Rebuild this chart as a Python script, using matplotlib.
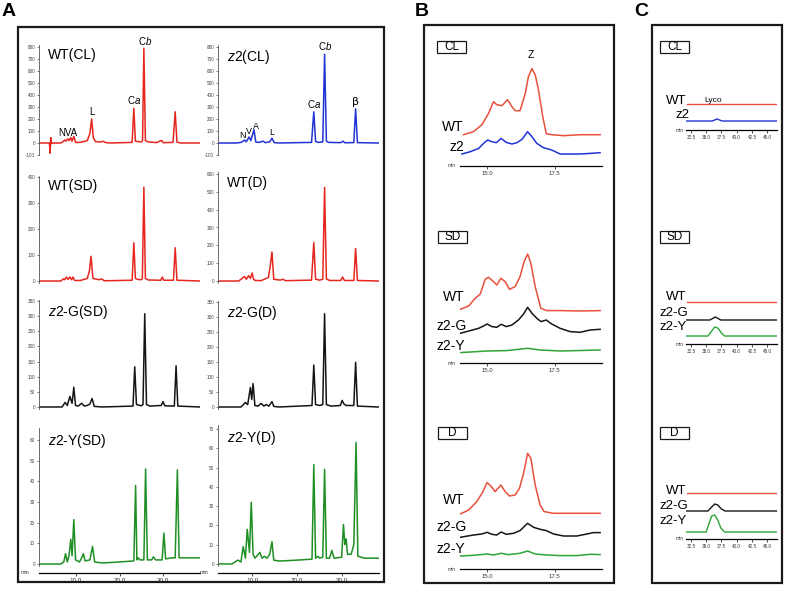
import numpy as np
import matplotlib
matplotlib.use("Agg")
import matplotlib.pyplot as plt
from matplotlib.patches import Rectangle

plt.rcParams['font.family'] = ['Liberation Sans', 'DejaVu Sans']
plt.rcParams['mathtext.fontset'] = 'custom'
plt.rcParams['mathtext.it'] = 'Liberation Sans:italic'
plt.rcParams['mathtext.rm'] = 'Liberation Sans'

# ---------------- data: panel A (time in min, absorbance) ----------------
wt_cl_t = [1.5, 3.9, 4.05, 4.2, 4.35, 4.6, 6.5, 7.0, 7.4, 7.7, 8.1, 8.4, 8.8, 9.1, 9.5, 9.9, 11.0, 12.6, 13.2, 13.6, 14.0,
           14.5, 15.5, 16.2, 16.9, 18.0, 22.9, 23.3, 23.65, 24.3, 25.0, 25.3, 25.6, 25.95, 26.5, 28.5, 29.7, 30.0, 30.3,
           32.3, 32.8, 33.2, 34.0, 38.5]
wt_cl_y = [0, 0, -85, 45, -5, 0, 0, 10, 25, 15, 35, 20, 45, 15, 55, 5, 5, 20, 80, 200, 40,
           12, 8, 14, 3, 0, 5, 290, 15, 12, 8, 20, 790, 20, 10, 3, 22, 3, 3,
           5, 260, 8, 0, 0]
z2_cl_t = [2.2, 6.5, 7.5, 8.0, 8.3, 8.7, 9.3, 9.7, 10.4, 10.8, 11.5, 12.4, 13.0, 13.9, 14.4, 14.9, 16.0, 23.2, 23.7, 24.1,
           24.7, 25.7, 26.1, 26.5, 27.0, 29.7, 30.2, 30.6, 32.6, 33.0, 33.4, 38.1]
z2_cl_y = [0, 0, 5, 15, 25, 10, 50, 20, 110, 8, 5, 15, 3, 10, 40, 3, 0, 5, 260, 12,
           5, 10, 740, 15, 5, 3, 15, 2, 3, 285, 3, 0]
wt_sd_t = [1.5, 6.5, 7.1, 7.4, 7.8, 8.2, 8.6, 9.0, 9.3, 9.7, 11.0, 12.6, 13.1, 13.45, 13.9, 15.3, 15.9, 16.5, 22.9, 23.3,
           23.65, 24.2, 25.0, 25.25, 25.6, 25.95, 26.6, 29.5, 29.8, 30.2, 32.4, 32.8, 33.2, 38.5]
wt_sd_y = [0, 0, 8, 5, 15, 6, 16, 5, 15, 2, 2, 10, 40, 95, 10, 5, 8, 1, 3, 147,
           10, 6, 5, 10, 361, 10, 4, 3, 15, 3, 3, 128, 3, 0]
wt_d_t = [2.4, 7.0, 8.3, 8.7, 9.2, 9.6, 10.0, 10.3, 10.7, 12.0, 13.6, 14.0, 14.4, 14.8, 16.3, 16.8, 17.4, 23.2, 23.7, 24.1,
          25.0, 25.7, 26.1, 26.5, 27.2, 29.7, 30.1, 30.5, 32.6, 33.0, 33.4, 38.1]
wt_d_y = [0, 0, 25, 10, 30, 15, 45, 10, 3, 2, 20, 80, 163, 10, 5, 10, 2, 5, 216, 10,
          5, 10, 525, 12, 3, 3, 22, 3, 3, 182, 3, 0]
zg_sd_t = [1.5, 6.8, 7.5, 8.0, 8.6, 9.1, 9.5, 9.9, 10.5, 11.3, 11.9, 12.6, 13.2, 13.7, 14.2, 16.0, 23.1, 23.5, 23.9, 25.0,
           25.4, 25.8, 26.2, 27.0, 29.6, 30.0, 30.4, 32.6, 33.0, 33.4, 38.5]
zg_sd_y = [0, 0, 15, 5, 35, 12, 65, 5, 3, 12, 3, 5, 10, 28, 2, 0, 3, 133, 8, 4,
           8, 308, 8, 3, 5, 18, 4, 3, 136, 3, 0]
zg_d_t = [2.4, 7.5, 8.5, 9.0, 9.6, 9.9, 10.2, 10.6, 11.3, 12.0, 12.6, 13.1, 13.7, 14.4, 14.8, 16.0, 23.3, 23.7, 24.1, 25.0,
          25.7, 26.1, 26.5, 27.5, 29.6, 30.0, 30.4, 30.9, 32.6, 33.0, 33.4, 38.1]
zg_d_y = [0, 0, 15, 8, 65, 25, 78, 5, 3, 12, 3, 8, 3, 18, 2, 0, 5, 140, 8, 5,
          8, 311, 8, 3, 5, 22, 10, 5, 5, 149, 3, 0]
zy_sd_t = [1.5, 6.5, 7.2, 7.6, 8.0, 8.4, 8.8, 9.1, 9.5, 9.9, 10.8, 11.3, 11.7, 12.1, 13.2, 13.8, 14.3, 16.0, 20.0, 23.3,
           23.7, 24.0, 24.3, 24.7, 25.6, 26.0, 26.4, 27.4, 27.8, 28.3, 29.8, 30.2, 30.6, 32.0, 32.8, 33.3, 33.7, 36.0, 38.5]
zy_sd_y = [0, 0, 1, 5, 1, 4, 12, 4, 21.5, 2, 1, 3, 5, 1.5, 2, 8.5, 1, 0.5, 1, 1.5,
           38, 2, 3, 2, 2, 46, 2, 2, 3.5, 2, 2, 15, 2.5, 3, 3, 45.5, 3, 3, 3]
zy_d_t = [2.4, 5.5, 6.8, 7.5, 8.0, 8.5, 8.9, 9.4, 9.8, 10.2, 10.6, 11.0, 11.7, 12.2, 12.7, 13.3, 13.9, 14.4, 14.8, 16.0,
          20.0, 23.3, 23.7, 24.1, 24.6, 25.0, 25.7, 26.1, 26.5, 27.2, 27.7, 28.2, 29.9, 30.3, 30.6, 30.9, 31.2, 32.0,
          32.6, 33.1, 33.5, 35.0, 38.1]
zy_d_y = [0, 0, 2, 1, 9, 3, 18, 6, 32, 5, 3, 4, 6, 3, 4, 3, 5, 11.5, 2, 1.5,
          2, 2.5, 51.5, 3, 4, 3, 3.5, 49, 3, 3, 7, 3, 3.5, 20.5, 10, 13, 5, 5,
          10, 63, 4, 3, 3]

# ---------------- data: panel B (time in min, signal in a.u.) ----------------
b_cl_wt_t = [14.13, 14.50, 14.81, 15.05, 15.24, 15.36, 15.55, 15.76, 15.92, 16.04, 16.22, 16.41, 16.53, 16.66, 16.78,
             16.90, 17.06, 17.19, 17.39, 17.83, 18.44, 19.18]
b_cl_wt_y = [31, 34, 41, 52, 64, 61, 60, 66, 59, 55, 55, 72, 89, 97, 91, 76, 49, 32, 31, 30, 31, 31]
b_cl_z2_t = [14.07, 14.38, 14.69, 14.87, 15.02, 15.18, 15.34, 15.52, 15.71, 15.92, 16.10, 16.29, 16.50, 16.66, 16.84,
             17.09, 17.39, 17.70, 18.07, 18.44, 18.81, 19.18]
b_cl_z2_y = [11.7, 14, 17.3, 22.3, 25.7, 24, 23, 27.3, 23.3, 21.7, 23, 26.3, 34, 29, 22.3, 18, 15.7, 11.7, 11.7, 11.7,
             12.3, 13]
b_sd_wt_t = [14.01, 14.32, 14.56, 14.75, 14.93, 15.05, 15.24, 15.36, 15.51, 15.67, 15.83, 16.04, 16.22, 16.37, 16.50,
             16.62, 16.78, 16.99, 17.21, 17.70, 18.44, 19.18]
b_sd_wt_y = [54, 57.3, 65, 69.3, 84, 86, 81.7, 78.3, 85, 81.7, 74, 76.7, 86.7, 101.7, 109.3, 100, 76.7, 55, 52.7, 52.7,
             52.3, 52.7]
b_sd_zg_t = [14.01, 14.38, 14.69, 14.87, 15.0, 15.18, 15.36, 15.52, 15.71, 15.92, 16.16, 16.35, 16.50, 16.66, 16.84,
             16.99, 17.19, 17.39, 17.70, 18.07, 18.44, 18.81, 19.18]
b_sd_zg_y = [30, 32.7, 35, 37.3, 39.3, 36.7, 36, 39, 36.7, 38.3, 43.3, 49.3, 56, 50, 45, 41.7, 43.3, 39.3, 35, 31.7, 31,
             33.3, 34]
b_sd_zy_t = [14.01, 15.0, 15.73, 16.50, 16.96, 17.70, 19.18]
b_sd_zy_y = [10.7, 12.3, 12.7, 15, 13.3, 12.3, 13.3]
b_d_wt_t = [14.01, 14.32, 14.62, 14.85, 15.0, 15.14, 15.30, 15.51, 15.67, 15.83, 16.04, 16.20, 16.35, 16.50, 16.62,
            16.78, 16.96, 17.11, 17.46, 18.44, 19.18]
b_d_wt_y = [55.3, 59.3, 67.7, 77.7, 86.7, 83.3, 77.7, 84.3, 77.7, 73.3, 74.3, 81, 96, 116, 111, 84.3, 64.3, 57.7, 56,
            56, 56]
b_d_zg_t = [14.01, 14.50, 14.81, 15.0, 15.18, 15.36, 15.52, 15.71, 15.98, 16.22, 16.50, 16.72, 16.96, 17.19, 17.46,
            17.83, 18.32, 18.69, 18.93, 19.18]
b_d_zg_y = [32, 34.3, 35.3, 37, 35, 34.3, 37.3, 35, 36, 38.7, 46, 42, 40, 38.7, 35.3, 33.3, 33.3, 35.3, 36.7, 36.7]
b_d_zy_t = [14.01, 14.50, 15.0, 15.24, 15.52, 15.79, 16.22, 16.50, 16.78, 17.21, 17.70, 18.32, 18.81, 19.18]
b_d_zy_y = [13.3, 14, 15.3, 14.3, 16, 14.7, 16, 18.3, 15.3, 14.3, 13.7, 13.7, 15, 14.7]

# ---------------- data: panel C (lycopene region) ----------------
c_flat_t = [31.8, 46.5]
c_cl_wt_y = [26, 26]
c_cl_z2_t = [31.8, 36.0, 36.8, 37.6, 46.5]
c_cl_z2_y = [9, 9, 11, 9, 9]
c_sd_wt_y = [42, 42]
c_sd_zg_t = [31.8, 35.6, 36.5, 37.4, 46.5]
c_sd_zg_y = [24, 24, 27, 24, 24]
c_sd_zy_t = [31.8, 35.3, 35.9, 36.4, 36.9, 37.5, 38.0, 46.5]
c_sd_zy_y = [8, 8, 13, 17, 16, 11, 8, 8]
c_d_wt_y = [46, 46]
c_d_zg_t = [31.8, 35.3, 35.9, 36.4, 36.9, 37.5, 38.1, 46.5]
c_d_zg_y = [28, 28, 32, 35, 34, 30, 28, 28]
c_d_zy_t = [31.8, 35.0, 35.5, 35.9, 36.4, 36.9, 37.4, 38.0, 46.5]
c_d_zy_y = [7, 7, 16, 23, 24, 19, 11, 7, 7]

RED = '#e6261f'
BLUE = '#2233d6'
BLACK = '#151515'
GREEN = '#1f8f24'
B_RED = '#e8503c'
B_GREEN = '#2ea536'

W, H = 796, 589
fig = plt.figure(figsize=(W / 100, H / 100), dpi=100)


def rect(x0, y0, x1, y1):
    return [x0 / W, 1 - y1 / H, (x1 - x0) / W, (y1 - y0) / H]


def ftext(x, y, s, **kw):
    kw.setdefault('va', 'center')
    kw.setdefault('ha', 'left')
    fig.text(x / W, 1 - y / H, s, **kw)


def frame(x0, y0, x1, y1, lw=1.6):
    fig.patches.append(Rectangle((x0 / W, 1 - y1 / H), (x1 - x0) / W, (y1 - y0) / H,
                                 transform=fig.transFigure, fill=False, lw=lw, ec='#1a1a1a'))


def label_box(x0, y0, s):
    frame(x0, y0, x0 + 29, y0 + 12, lw=0.9)
    ftext(x0 + 14.5, y0 + 6.3, s, ha='center', fontsize=8.5)


# panel frames and letters
frame(18, 27, 384, 582)
frame(424, 25, 614, 583)
frame(652, 25, 782, 583)
ftext(2, 12, 'A', fontsize=14, fontweight='bold')
ftext(415, 12, 'B', fontsize=14, fontweight='bold')
ftext(634, 12, 'C', fontsize=14, fontweight='bold')

# ---------------- panel A ----------------
a_rows = [
    ((wt_cl_t, wt_cl_y), (z2_cl_t, z2_cl_y), (RED, BLUE),
     ((-100, 820), np.arange(-100, 801, 100), 44.6, 155), ((-100, 820), np.arange(-100, 801, 100), 44.6, 155),
     ('WT(CL)', r'$\it{z2}$(CL)')),
    ((wt_sd_t, wt_sd_y), (wt_d_t, wt_d_y), (RED, RED),
     ((-8, 405), np.arange(0, 401, 100), 175.7, 283.1), ((-10, 610), np.arange(0, 601, 100), 172.2, 282.8),
     ('WT(SD)', 'WT(D)')),
    ((zg_sd_t, zg_sd_y), (zg_d_t, zg_d_y), (BLACK, BLACK),
     ((-5, 355), np.arange(0, 351, 50), 299.5, 408.5), ((-5, 355), np.arange(0, 351, 50), 300.5, 408.5),
     (r'$\it{z2}$-G(SD)', r'$\it{z2}$-G(D)')),
    ((zy_sd_t, zy_sd_y), (zy_d_t, zy_d_y), (GREEN, GREEN),
     ((-1, 66), np.arange(0, 61, 10), 427.6, 566.1), ((-1, 72), np.arange(0, 71, 10), 425.1, 565.9),
     (r'$\it{z2}$-Y(SD)', r'$\it{z2}$-Y(D)')),
]
cols = [(39, 200, (1.5, 38.5)), (218, 379, (2.4, 38.2))]
axes_a = []
for r, row in enumerate(a_rows):
    traces = row[0:2]
    colors = row[2]
    specs = row[3:5]
    titles = row[5]
    for c in range(2):
        x0, x1, xl = cols[c]
        yl, yt, top, bot = specs[c]
        ax = fig.add_axes(rect(x0, top, x1, bot))
        ax.plot(traces[c][0], traces[c][1], color=colors[c], lw=1.1)
        ax.set_xlim(xl)
        ax.set_ylim(yl)
        ax.set_yticks(yt)
        ax.set_yticklabels([str(v) for v in yt])
        ax.tick_params(axis='y', labelsize=3.3, length=1.8, width=0.5, pad=1, colors='#444444')
        for s in ['top', 'right']:
            ax.spines[s].set_visible(False)
        ax.spines['left'].set_linewidth(0.6)
        ax.spines['left'].set_color('#555555')
        ax.patch.set_alpha(0)
        if r == 3:
            ax.spines['bottom'].set_position(('outward', 5))
            ax.spines['bottom'].set_linewidth(0.9)
            ax.set_xticks([10, 20, 30])
            ax.set_xticklabels(['10.0', '20.0', '30.0'])
            ax.tick_params(axis='x', labelsize=4.5, length=2, width=0.6, pad=1.5, colors='#333333')
            ax.text(-0.06, -0.06, 'min', transform=ax.transAxes, fontsize=3.8, color='#333333', ha='right')
        else:
            ax.spines['bottom'].set_visible(False)
            ax.set_xticks([])
        ax.text(0.055, 0.97, titles[c], transform=ax.transAxes, fontsize=10, va='top', ha='left')
        axes_a.append(ax)

# peak names
ax = axes_a[0]
ax.text(8.2, 45, 'NVA', fontsize=7, ha='center', va='bottom')
ax.text(13.7, 215, 'L', fontsize=7, ha='center', va='bottom')
ax.text(23.4, 305, r'C$\it{a}$', fontsize=7, ha='center', va='bottom')
ax.text(25.8, 800, r'C$\it{b}$', fontsize=7, ha='center', va='bottom')
ax = axes_a[1]
ax.text(7.9, 28, 'N', fontsize=6.5, ha='center', va='bottom')
ax.text(9.3, 58, 'V', fontsize=6.5, ha='center', va='bottom')
ax.text(10.9, 100, 'A', fontsize=6.5, ha='center', va='bottom')
ax.text(14.4, 50, 'L', fontsize=6.5, ha='center', va='bottom')
ax.text(23.7, 272, r'C$\it{a}$', fontsize=7, ha='center', va='bottom')
ax.text(26.1, 755, r'C$\it{b}$', fontsize=7, ha='center', va='bottom')
ax.text(33.0, 300, 'β', fontsize=8, ha='center', va='bottom', family=['DejaVu Sans'])


def side_axis(x0, x1, axis_y, height, xlim, ticks, ticklabels, tsize):
    ax = fig.add_axes(rect(x0, axis_y - height, x1, axis_y))
    ax.set_xlim(xlim)
    ax.set_ylim(0, height)
    for s in ['top', 'right', 'left']:
        ax.spines[s].set_visible(False)
    ax.spines['bottom'].set_linewidth(0.9)
    ax.set_yticks([])
    ax.set_xticks(ticks)
    ax.set_xticklabels(ticklabels)
    ax.tick_params(axis='x', labelsize=tsize, length=2, width=0.6, pad=1.5, colors='#333333')
    ax.patch.set_alpha(0)
    ax.text(-0.03, 0, 'min', transform=ax.transAxes, fontsize=3.5, color='#333333', ha='right', va='center')
    return ax


# ---------------- panel B ----------------
b_xlim = (14.0, 19.25)
b_ticks = [15.0, 17.5]
b_tl = ['15.0', '17.5']
ax = side_axis(460, 602, 165.7, 130, b_xlim, b_ticks, b_tl, 4.3)
ax.plot(b_cl_wt_t, b_cl_wt_y, color=B_RED, lw=1.1)
ax.plot(b_cl_z2_t, b_cl_z2_y, color=BLUE, lw=1.1)
ax.text(16.62, 106, 'Z', fontsize=7.5, ha='center', va='bottom')
label_box(437, 41, 'CL')
ftext(442, 127, 'WT', fontsize=10)
ftext(449, 147, 'z2', fontsize=10)

ax = side_axis(460, 602, 363.3, 130, b_xlim, b_ticks, b_tl, 4.3)
ax.plot(b_sd_wt_t, b_sd_wt_y, color=B_RED, lw=1.1)
ax.plot(b_sd_zg_t, b_sd_zg_y, color=BLACK, lw=1.1)
ax.plot(b_sd_zy_t, b_sd_zy_y, color=B_GREEN, lw=1.1)
label_box(438, 231, 'SD')
ftext(443, 297, 'WT', fontsize=10)
ftext(436, 326, 'z2-G', fontsize=10)
ftext(436, 346, 'z2-Y', fontsize=10)

ax = side_axis(460, 602, 569.3, 130, b_xlim, b_ticks, b_tl, 4.3)
ax.plot(b_d_wt_t, b_d_wt_y, color=B_RED, lw=1.1)
ax.plot(b_d_zg_t, b_d_zg_y, color=BLACK, lw=1.1)
ax.plot(b_d_zy_t, b_d_zy_y, color=B_GREEN, lw=1.1)
label_box(438, 427, 'D')
ftext(443, 500, 'WT', fontsize=10)
ftext(436, 527, 'z2-G', fontsize=10)
ftext(436, 549, 'z2-Y', fontsize=10)

# ---------------- panel C ----------------
c_xlim = (31.7, 46.6)
c_ticks = [32.5, 35.0, 37.5, 40.0, 42.5, 45.0]
c_tl = ['32.5', '35.0', '37.5', '40.0', '42.5', '45.0']
ax = side_axis(686, 777, 130, 50, c_xlim, c_ticks, c_tl, 3.3)
ax.plot(c_flat_t, c_cl_wt_y, color=B_RED, lw=1.0)
ax.plot(c_cl_z2_t, c_cl_z2_y, color=BLUE, lw=1.0)
label_box(660, 41, 'CL')
ftext(666, 100.5, 'WT', fontsize=9.5)
ftext(704, 100, 'Lyco', fontsize=6)
ftext(676, 115, 'z2', fontsize=9.5)

ax = side_axis(686, 777, 344, 60, c_xlim, c_ticks, c_tl, 3.3)
ax.plot(c_flat_t, c_sd_wt_y, color=B_RED, lw=1.0)
ax.plot(c_sd_zg_t, c_sd_zg_y, color=BLACK, lw=1.0)
ax.plot(c_sd_zy_t, c_sd_zy_y, color=B_GREEN, lw=1.0)
label_box(660, 231, 'SD')
ftext(666, 297.5, 'WT', fontsize=9.5)
ftext(660, 313.5, 'z2-G', fontsize=9.5)
ftext(660, 327, 'z2-Y', fontsize=9.5)

ax = side_axis(686, 777, 539, 60, c_xlim, c_ticks, c_tl, 3.3)
ax.plot(c_flat_t, c_d_wt_y, color=B_RED, lw=1.0)
ax.plot(c_d_zg_t, c_d_zg_y, color=BLACK, lw=1.0)
ax.plot(c_d_zy_t, c_d_zy_y, color=B_GREEN, lw=1.0)
label_box(660, 427, 'D')
ftext(666, 491, 'WT', fontsize=9.5)
ftext(660, 506, 'z2-G', fontsize=9.5)
ftext(660, 520.5, 'z2-Y', fontsize=9.5)

fig.savefig('out.png', dpi=100)
